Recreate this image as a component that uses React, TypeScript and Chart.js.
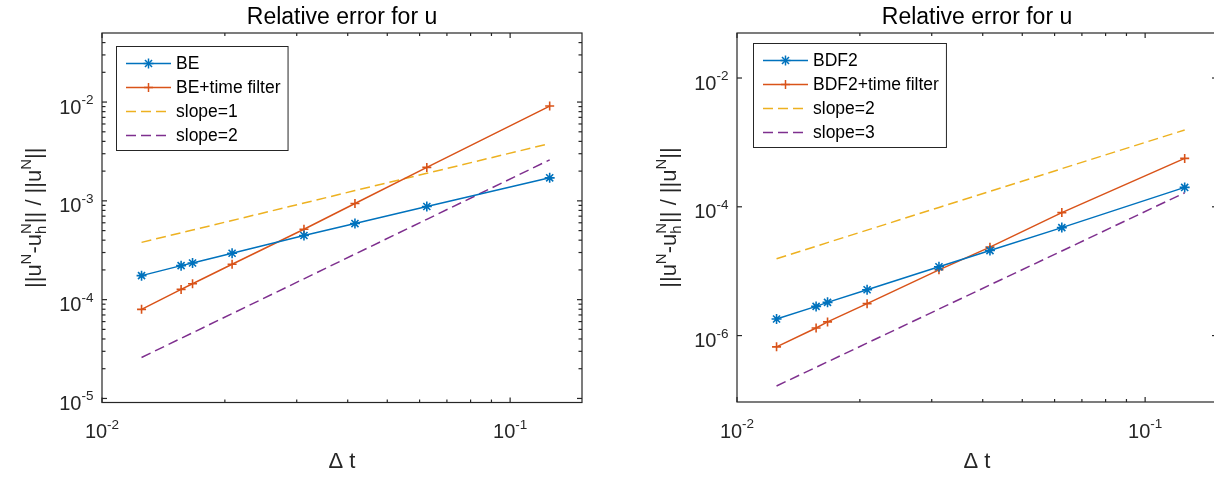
import React, { useEffect, useRef } from 'react';
import { Chart, registerables } from 'chart.js';

Chart.register(...registerables);

// ---------------- data ----------------
const dt = [1 / 80, 1 / 64, 1 / 60, 1 / 48, 1 / 32, 1 / 24, 1 / 16, 1 / 8];

const beErr = [1.75e-4, 2.21e-4, 2.35e-4, 2.95e-4, 4.46e-4, 5.89e-4, 8.77e-4, 1.71e-3];
const beFilterErr = [7.98e-5, 1.27e-4, 1.45e-4, 2.28e-4, 5.16e-4, 9.4e-4, 2.18e-3, 9.11e-3];
const slope1Ref = [3.8e-4, 4.75e-4, 5.07e-4, 6.33e-4, 9.5e-4, 1.27e-3, 1.9e-3, 3.8e-3];
const slope2RefLeft = [2.6e-5, 4.06e-5, 4.62e-5, 7.22e-5, 1.625e-4, 2.89e-4, 6.5e-4, 2.6e-3];

const bdf2Err = [1.81e-6, 2.84e-6, 3.28e-6, 5.15e-6, 1.17e-5, 2.09e-5, 4.75e-5, 2.0e-4];
const bdf2FilterErr = [6.68e-7, 1.31e-6, 1.63e-6, 3.13e-6, 1.05e-5, 2.36e-5, 8.13e-5, 5.64e-4];
const slope2RefRight = [1.56e-5, 2.44e-5, 2.78e-5, 4.34e-5, 9.77e-5, 1.74e-4, 3.91e-4, 1.56e-3];
const slope3Ref = [1.65e-7, 3.22e-7, 3.91e-7, 7.64e-7, 2.58e-6, 6.11e-6, 2.06e-5, 1.65e-4];

const leftNames = ['BE', 'BE+time filter', 'slope=1', 'slope=2'];
const rightNames = ['BDF2', 'BDF2+time filter', 'slope=2', 'slope=3'];

const titleText = 'Relative error for u';
const xLabelText = 'Δ t';

const xMajorTicks = [0.01, 0.1];
const xTickExponents = ['-2', '-1'];
const leftYMajorTicks = [1e-5, 1e-4, 1e-3, 1e-2];
const leftYTickExponents = ['-5', '-4', '-3', '-2'];
const rightYMajorTicks = [1e-6, 1e-4, 1e-2];
const rightYTickExponents = ['-6', '-4', '-2'];

// ---------------- styles ----------------
const FONT = "'Liberation Sans', Arial, Helvetica, sans-serif";
const AXIS = '#262626';
const COLORS = ['#0072BD', '#D95319', '#EDB120', '#7E2F8E'];
const STYLES = ['star', 'cross', 'none', 'none'];
const RADII = [5, 4.5, 0, 0];
const DASHED = [false, false, true, true];
const DASH = [10, 5];

type PanelCfg = {
  names: string[];
  series: number[][];
  yMin: number;
  yMax: number;
  yMajor: number[];
  yExp: string[];
  yMinor: boolean;
  canvasLeft: number;
  canvasWidth: number;
  pad: { left: number; right: number; bottom: number };
  legendDx: number;
  legendDy: number;
};

const panels: PanelCfg[] = [
  {
    names: leftNames,
    series: [beErr, beFilterErr, slope1Ref, slope2RefLeft],
    yMin: 9.1e-6,
    yMax: 0.05,
    yMajor: leftYMajorTicks,
    yExp: leftYTickExponents,
    yMinor: true,
    canvasLeft: 0,
    canvasWidth: 607,
    pad: { left: 102, right: 25, bottom: 76.5 },
    legendDx: 14,
    legendDy: 13,
  },
  {
    names: rightNames,
    series: [bdf2Err, bdf2FilterErr, slope2RefRight, slope3Ref],
    yMin: 9.3e-8,
    yMax: 0.05,
    yMajor: rightYMajorTicks,
    yExp: rightYTickExponents,
    yMinor: false,
    canvasLeft: 607,
    canvasWidth: 640,
    pad: { left: 130, right: 30, bottom: 77 },
    legendDx: 16,
    legendDy: 10,
  },
];

function line(ctx: CanvasRenderingContext2D, x1: number, y1: number, x2: number, y2: number) {
  ctx.beginPath();
  ctx.moveTo(x1, y1);
  ctx.lineTo(x2, y2);
  ctx.stroke();
}

function drawMarker(ctx: CanvasRenderingContext2D, style: string, x: number, y: number, r: number) {
  if (style === 'none') return;
  const angles = style === 'star' ? [0, 45, 90, 135] : [0, 90];
  for (const a of angles) {
    const rad = (a * Math.PI) / 180;
    line(ctx, x - r * Math.cos(rad), y - r * Math.sin(rad), x + r * Math.cos(rad), y + r * Math.sin(rad));
  }
}

function drawPow(
  ctx: CanvasRenderingContext2D,
  base: string,
  exp: string,
  x: number,
  y: number,
  align: 'center' | 'right'
) {
  ctx.textAlign = 'left';
  ctx.textBaseline = 'alphabetic';
  ctx.font = `20px ${FONT}`;
  const wb = ctx.measureText(base).width;
  ctx.font = `13.5px ${FONT}`;
  const we = ctx.measureText(exp).width;
  const w = wb + we;
  const x0 = align === 'center' ? x - w / 2 : x - w;
  ctx.font = `20px ${FONT}`;
  ctx.fillText(base, x0, y);
  ctx.font = `13.5px ${FONT}`;
  ctx.fillText(exp, x0 + wb, y - 9.5);
}

type Seg = { t: string; k: 'main' | 'sup' | 'sub' | 'stack'; t2?: string };
const yLabelSegs: Seg[] = [
  { t: '||u', k: 'main' },
  { t: 'N', k: 'sup' },
  { t: '-u', k: 'main' },
  { t: 'h', k: 'stack', t2: 'N' },
  { t: '|| / ||u', k: 'main' },
  { t: 'N', k: 'sup' },
  { t: '||', k: 'main' },
];

function drawYLabel(ctx: CanvasRenderingContext2D, bx: number, cy: number) {
  const MAIN = `22px ${FONT}`;
  const SMALL = `15px ${FONT}`;
  const widths = yLabelSegs.map((s) => {
    ctx.font = s.k === 'main' ? MAIN : SMALL;
    if (s.k === 'stack') return Math.max(ctx.measureText(s.t).width, ctx.measureText(s.t2 || '').width);
    return ctx.measureText(s.t).width;
  });
  const total = widths.reduce((a, b) => a + b, 0);
  ctx.save();
  ctx.translate(bx, cy);
  ctx.rotate(-Math.PI / 2);
  ctx.textAlign = 'left';
  ctx.textBaseline = 'alphabetic';
  ctx.fillStyle = AXIS;
  let x = -total / 2;
  yLabelSegs.forEach((s, i) => {
    if (s.k === 'main') {
      ctx.font = MAIN;
      ctx.fillText(s.t, x, 0);
    } else if (s.k === 'sup') {
      ctx.font = SMALL;
      ctx.fillText(s.t, x, -10);
    } else {
      ctx.font = SMALL;
      ctx.fillText(s.t, x, 5);
      ctx.fillText(s.t2 || '', x, -10);
    }
    x += widths[i];
  });
  ctx.restore();
}

function makePlugin(p: PanelCfg) {
  return {
    id: 'matlabAxes',
    afterDatasetsDraw(chart: any) {
      const ctx: CanvasRenderingContext2D = chart.ctx;
      const a = chart.chartArea;
      const xs = chart.scales.x;
      const ys = chart.scales.y;
      ctx.save();
      ctx.setLineDash([]);
      ctx.strokeStyle = AXIS;
      ctx.lineWidth = 1.2;

      // x ticks (bottom + top, inward)
      const xMinor: number[] = [];
      for (let k = 2; k <= 9; k++) xMinor.push(k * 0.01);
      for (const v of xMinor) {
        const px = xs.getPixelForValue(v);
        line(ctx, px, a.bottom, px, a.bottom - 3);
        line(ctx, px, a.top, px, a.top + 3);
      }
      for (const v of xMajorTicks) {
        const px = xs.getPixelForValue(v);
        line(ctx, px, a.bottom, px, a.bottom - 5);
        line(ctx, px, a.top, px, a.top + 5);
      }
      // y ticks
      if (p.yMinor) {
        const e0 = Math.floor(Math.log10(p.yMin));
        const e1 = Math.ceil(Math.log10(p.yMax));
        for (let e = e0; e <= e1; e++) {
          for (let k = 2; k <= 9; k++) {
            const v = k * Math.pow(10, e);
            if (v <= p.yMin || v >= p.yMax * 0.999) continue;
            const py = ys.getPixelForValue(v);
            line(ctx, a.left, py, a.left + 3.5, py);
            line(ctx, a.right, py, a.right - 3.5, py);
          }
        }
      }
      for (const v of p.yMajor) {
        const py = ys.getPixelForValue(v);
        line(ctx, a.left, py, a.left + 5, py);
        line(ctx, a.right, py, a.right - 5, py);
      }
      // frame
      ctx.strokeRect(a.left, a.top, a.right - a.left, a.bottom - a.top);

      // tick labels
      ctx.fillStyle = AXIS;
      xMajorTicks.forEach((v, i) => {
        drawPow(ctx, '10', xTickExponents[i], xs.getPixelForValue(v), a.bottom + 35.5, 'center');
      });
      p.yMajor.forEach((v, i) => {
        drawPow(ctx, '10', p.yExp[i], a.left - 8.5, ys.getPixelForValue(v) + 11.5, 'right');
      });

      // axis labels
      ctx.font = `22px ${FONT}`;
      ctx.textAlign = 'center';
      ctx.textBaseline = 'alphabetic';
      ctx.fillText(xLabelText, (a.left + a.right) / 2, a.bottom + 65.5);
      drawYLabel(ctx, a.left - 61, (a.top + a.bottom) / 2);

      // legend
      const x0 = a.left + p.legendDx;
      const y0 = a.top + p.legendDy;
      ctx.font = `17.5px ${FONT}`;
      const tw = Math.max(...p.names.map((n) => ctx.measureText(n).width));
      const w = 60 + tw + 7;
      const h = 104;
      ctx.fillStyle = '#fff';
      ctx.fillRect(x0, y0, w, h);
      ctx.strokeStyle = AXIS;
      ctx.lineWidth = 1;
      ctx.strokeRect(x0 + 0.5, y0 + 0.5, w, h);
      p.names.forEach((n, i) => {
        const cy = y0 + 17.5 + i * 24;
        ctx.strokeStyle = COLORS[i];
        ctx.lineWidth = 1.5;
        ctx.setLineDash(DASHED[i] ? DASH : []);
        line(ctx, x0 + 10, cy, x0 + 55, cy);
        ctx.setLineDash([]);
        drawMarker(ctx, STYLES[i], x0 + 32.5, cy, RADII[i]);
        ctx.fillStyle = '#000';
        ctx.textAlign = 'left';
        ctx.textBaseline = 'middle';
        ctx.font = `17.5px ${FONT}`;
        ctx.fillText(n, x0 + 60, cy + 1);
      });
      ctx.restore();
    },
  };
}

function Panel({ cfg }: { cfg: PanelCfg }) {
  const ref = useRef<HTMLCanvasElement>(null);
  useEffect(() => {
    const canvas = ref.current;
    if (!canvas) return;
    const datasets = cfg.series.map((arr, i) => ({
      label: cfg.names[i],
      data: dt.map((x, j) => ({ x, y: arr[j] })),
      borderColor: COLORS[i],
      backgroundColor: COLORS[i],
      borderWidth: 1.5,
      borderDash: DASHED[i] ? DASH : [],
      pointStyle: STYLES[i] === 'none' ? false : STYLES[i],
      pointRadius: RADII[i],
      pointBorderColor: COLORS[i],
      pointBorderWidth: 1.6,
      fill: false,
      tension: 0,
    }));
    const chart = new Chart(canvas, {
      type: 'line',
      data: { datasets: datasets as any },
      options: {
        animation: false,
        responsive: false,
        events: [],
        layout: { padding: { left: cfg.pad.left, right: cfg.pad.right, top: 0, bottom: cfg.pad.bottom } },
        plugins: {
          legend: { display: false },
          tooltip: { enabled: false },
          title: {
            display: true,
            text: titleText,
            color: '#000',
            font: { family: FONT, size: 23, weight: 'normal' },
            padding: { top: 4, bottom: 1.4 },
          },
        },
        scales: {
          x: { type: 'logarithmic', min: 0.01, max: 0.15, display: false },
          y: { type: 'logarithmic', min: cfg.yMin, max: cfg.yMax, display: false },
        },
      } as any,
      plugins: [makePlugin(cfg)],
    });
    return () => chart.destroy();
  }, [cfg]);
  return (
    <canvas
      ref={ref}
      width={cfg.canvasWidth}
      height={479}
      style={{ position: 'absolute', left: cfg.canvasLeft, top: 0, width: cfg.canvasWidth, height: 479 }}
    />
  );
}

export default function App() {
  return (
    <div
      style={{
        position: 'fixed',
        left: 0,
        top: 0,
        width: 1214,
        height: 479,
        overflow: 'hidden',
        background: '#fff',
      }}
    >
      {panels.map((p, i) => (
        <Panel key={i} cfg={p} />
      ))}
    </div>
  );
}
